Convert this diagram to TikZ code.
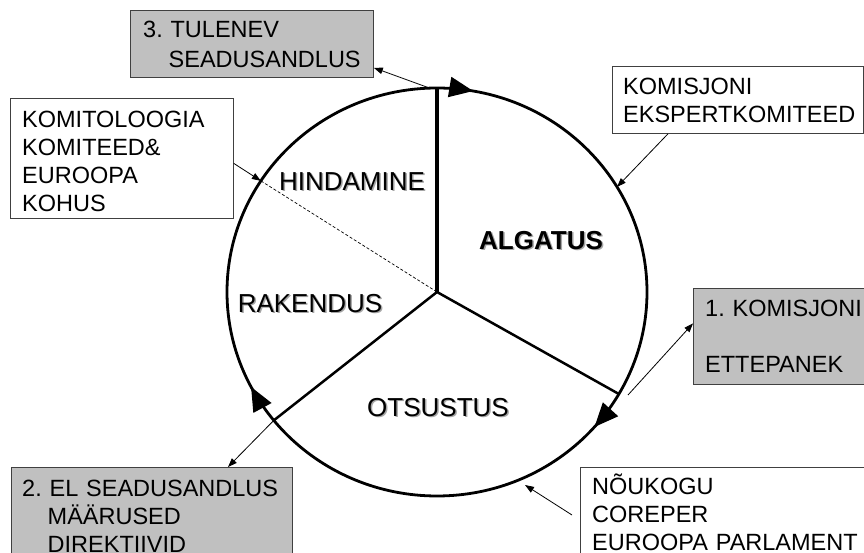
\documentclass[tikz,border=0pt]{standalone}
\usepackage{fontspec}
\setmainfont{Liberation Sans}
\usepackage{xcolor}
\usetikzlibrary{positioning, calc, arrows.meta, decorations.markings}
\definecolor{boxgray}{RGB}{192,192,192}
\definecolor{boxline}{RGB}{64,64,64}
\frenchspacing
\newcommand{\shadowed}[1]{\makebox[0pt][l]{\hspace{1.5pt}\raisebox{-1.5pt}{\textcolor{black!35}{#1}}}#1}
\tikzset{
  box/.style={draw=boxline, line width=0.8pt, anchor=north west, inner sep=0pt},
  graybox/.style={box, fill=boxgray},
  boxtext/.style={inner sep=0pt, text width=330pt, align=left, text height=16.8pt,
    font=\fontsize{23.5}{28}\selectfont},
  phase/.style={inner sep=0pt, font=\fontsize{26}{30}\selectfont},
  link/.style={line width=0.8pt, -{Triangle[length=9pt,width=6.5pt]}}
}

\begin{document}
\begin{tikzpicture}[x=1pt, y=1pt]
\useasboundingbox (0,0) rectangle (864,553);
\clip (0,0) rectangle (864,553);
\coordinate (c) at (437,261);
\coordinate (top) at ($(c)+(90:210pt and 204pt)$);
\coordinate (lr) at ($(c)+(-30:210pt and 204pt)$);
\coordinate (ll) at ($(c)+(219:210pt and 204pt)$);

% the cycle
\draw[line width=2.8pt, postaction={decorate}, decoration={markings,
    mark=at position 0.222 with {\arrowreversed{Triangle[length=24pt,width=20pt]}},
    mark=at position 0.576 with {\arrowreversed{Triangle[length=24pt,width=20pt]}},
    mark=at position 0.886 with {\arrowreversed{Triangle[length=24pt,width=20pt]}}}]
  (c) ellipse [x radius=210pt, y radius=204pt];
\draw[line width=3.6pt] (c) -- (top);
\draw[line width=2.5pt] (c) -- (lr) (c) -- (ll);

\node[phase] (hindamine) at (352,371) {\shadowed{HINDAMINE}};
\node[phase, font=\fontsize{26}{30}\selectfont\bfseries] (algatus) at (541,312) {\shadowed{ALGATUS}};
\node[phase] (rakendus) at (310,249) {\shadowed{RAKENDUS}};
\node[phase] (otsustus) at (438,145) {\shadowed{OTSUSTUS}};

% boxes
\node[graybox, minimum width=243pt, minimum height=67pt] (tulenev) at (130,543) {};
\node[boxtext, below right=11pt and 13pt of tulenev.north west] (tulenevtext)
  {3. TULENEV\\[2pt]\hspace*{25.5pt}SEADUSANDLUS};
\node[box, minimum width=223pt, minimum height=120pt] (komit) at (10,455) {};
\node[boxtext, below right=13pt and 12pt of komit.north west] (komittext)
  {KOMITOLOOGIA\\KOMITEED\&\\EUROOPA\\KOHUS};
\node[box, minimum width=251pt, minimum height=67pt] (ekspert) at (612,487) {};
\node[boxtext, below right=12pt and 11pt of ekspert.north west] (eksperttext)
  {KOMISJONI\\EKSPERTKOMITEED};
\node[graybox, minimum width=200pt, minimum height=96pt] (ettepanek) at (693,265) {};
\node[boxtext, below right=12pt and 12pt of ettepanek.north west] (ettepanektext)
  {1. KOMISJONI\\[28pt]ETTEPANEK};
\node[box, minimum width=300pt, minimum height=120pt] (noukogu) at (580,86) {};
\node[boxtext, below right=11pt and 12pt of noukogu.north west] (noukogutext)
  {NÕUKOGU\\COREPER\\EUROOPA PARLAMENT};
\node[graybox, minimum width=281pt, minimum height=120pt] (el) at (11,86) {};
\node[boxtext, below right=13pt and 11pt of el.north west] (eltext)
  {2. EL SEADUSANDLUS\\\hspace*{25.5pt}MÄÄRUSED\\\hspace*{25.5pt}DIREKTIIVID};

% connectors
\coordinate (t1) at ($(c)+(92:210pt and 204pt)$);
\coordinate (e1) at ($(c)+(147:210pt and 204pt)$);
\coordinate (k1) at ($(c)+(31:210pt and 204pt)$);
\coordinate (k2) at (628,158);
\coordinate (n1) at (525,68);
\draw[link] (t1) -- ($(tulenev.south east)+(0,10)$);
\draw[link] ($(komit.east)+(0,-5)$) -- (e1);
\draw[line width=0.7pt, dash pattern=on 3pt off 2pt] (e1) -- (c);
\draw[link] ($(ekspert.south west)+(56,0)$) -- (k1);
\draw[link] (k2) -- ($(ettepanek.west)+(0,13)$);
\draw[link] ($(noukogu.north west)+(-8,-48)$) -- (n1);
\draw[link] (ll) -- ($(el.north west)+(217,0)$);
\end{tikzpicture}
\end{document}
